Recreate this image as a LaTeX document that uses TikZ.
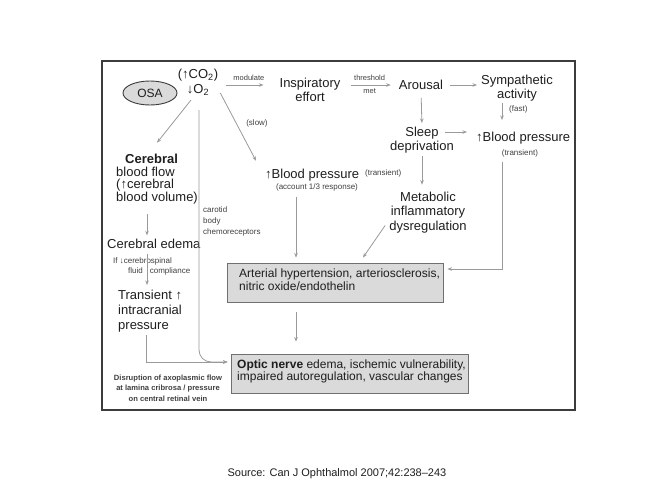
\documentclass[tikz,border=0pt]{standalone}
\usepackage{fontspec}
\setmainfont{Liberation Sans}
\usetikzlibrary{arrows.meta,shapes.geometric}
\definecolor{txtc}{HTML}{1E1E1E}
\definecolor{arrc}{HTML}{9A9A9A}
\definecolor{boxf}{HTML}{DADADA}
\definecolor{boxd}{HTML}{707070}
\definecolor{framec}{HTML}{3C3C3C}
\tikzset{
  txt/.style={font=\fontsize{13}{13.5}\selectfont, text=txtc, inner sep=0pt, align=center},
  sm/.style={font=\fontsize{8}{10}\selectfont, text=txtc!85, inner sep=0pt},
  bx/.style={draw=boxd, fill=boxf, line width=0.9pt, inner sep=0pt},
  bxtxt/.style={font=\fontsize{12}{12.5}\selectfont, text=txtc, inner sep=0pt, align=left},
  ar/.style={draw=arrc, line width=0.8pt, -{Stealth[length=4.5pt,width=3.5pt]}},
  ln/.style={draw=arrc, line width=0.8pt}
}
\begin{document}
\begin{tikzpicture}[x=1pt,y=-1pt]
\useasboundingbox (0,0) rectangle (649,488);
\fill[white] (0,0) rectangle (649,488);
\draw[framec, line width=1.8pt] (102,61) rectangle (575,410);

% nodes
\node[draw=framec, fill=boxf, line width=0.9pt, ellipse, minimum width=54pt, minimum height=24pt, inner sep=0pt, font=\fontsize{12}{12}\selectfont, text=txtc] (osa) at (150,93) {OSA};
\node[txt, font=\fontsize{13}{15}\selectfont] (gas) at (198,82.5) {(↑CO\textsubscript{2})\\↓O\textsubscript{2}};
\node[txt] (insp) at (310,90) {Inspiratory\\effort};
\node[txt] (arousal) at (421,85) {Arousal};
\node[txt] (symp) at (517,88) {Sympathetic\\activity};
\node[txt] (sleep) at (422,140) {Sleep\\deprivation};
\node[txt, anchor=west] (bpR) at (476,138) {↑Blood pressure};
\node[sm] (bpRt) at (520,153) {(transient)};
\node[sm, anchor=west] (fast) at (509,109) {(fast)};
\node[txt, font=\fontsize{13}{14.5}\selectfont] (metab) at (428,212.5) {Metabolic\\inflammatory\\dysregulation};
\node[txt, anchor=west] (bpM) at (265,175) {↑Blood pressure};
\node[sm, anchor=west] (bpMt) at (365,173) {(transient)};
\node[sm] (bpMa) at (317,187) {(account 1/3 response)};
\node[sm] (slow) at (257,123) {(slow)};
\node[txt, align=left, font=\fontsize{13}{12.7}\selectfont, anchor=west] (cereb) at (116,179)
  {\hspace*{9pt}\textbf{Cerebral}\\blood flow\\(↑cerebral\\blood volume)};
\node[txt, anchor=west] (edema) at (107,244) {Cerebral edema};
\node[sm, align=left, anchor=west] (csf) at (113,266) {If ↓cerebrospinal\\\hspace*{15pt}fluid\hspace{7pt}compliance};
\node[txt, align=left, font=\fontsize{13}{15}\selectfont, anchor=west] (trans) at (118,311) {Transient ↑\\intracranial\\pressure};
\node[sm, font=\fontsize{8}{11}\selectfont, align=left, anchor=west] (carot) at (203,221) {carotid\\body\\chemoreceptors};
\node[sm, font=\bfseries\fontsize{7.6}{10.5}\selectfont, align=center] (disr) at (168,388)
  {Disruption of axoplasmic flow\\at lamina cribrosa / pressure\\on central retinal vein};

\node[bx, minimum width=216pt, minimum height=39pt] (art) at (335,282.5) {};
\node[bxtxt, anchor=west] (arttxt) at (239,279.5) {Arterial hypertension, arteriosclerosis,\\nitric oxide/endothelin};
\node[bx, minimum width=237pt, minimum height=39pt] (opt) at (349.5,373.5) {};
\node[bxtxt, anchor=west] (opttxt) at (237,371.5) {\textbf{Optic nerve} edema, ischemic vulnerability,\\impaired autoregulation, vascular changes};

\node[font=\fontsize{11}{11}\selectfont, text=txtc, inner sep=0pt] (src) at (337,474) {Source: Can J Ophthalmol 2007;42:238–243};

% connectors
\draw[ar, shorten <=8pt, shorten >=16pt] (gas.east |- arousal) -- (insp.west |- arousal)
  node[sm, midway, above=4pt, font=\fontsize{7.5}{8}\selectfont] (modl) {modulate};
\draw[ar, shorten <=10pt, shorten >=8pt] (insp.east |- arousal) -- (arousal.west)
  node[sm, midway, above=4pt, font=\fontsize{7.5}{8}\selectfont] (thr) {threshold}
  node[sm, midway, below=3.5pt, font=\fontsize{7.5}{8}\selectfont] (met) {met};
\draw[ar, shorten <=7pt, shorten >=4pt] (arousal.east) -- (symp.west |- arousal);
\draw[ar] ([xshift=-15pt,yshift=-2pt]symp.south) -- ++(0,17);
\draw[ar, shorten <=8pt, shorten >=4pt] (arousal.south) -- (sleep.north);
\draw[ar] ([xshift=23pt,yshift=-5pt]sleep.north) -- ++(22,0);
\draw[ar] ([xshift=-18pt,yshift=-5pt]bpRt.south) |- ([xshift=4pt,yshift=13.5pt]art.east);
\draw[ar, shorten <=3pt, shorten >=7pt] (sleep.south) -- (sleep.south |- metab.north);
\draw[ar] ([xshift=-4pt,yshift=-13pt]metab.west) -- ([xshift=28pt,yshift=5pt]art.north);
\draw[ar] ([xshift=-7pt,yshift=-4pt]gas.south) -- ([xshift=0pt,yshift=11pt]cereb.north);
\draw[ar] ([xshift=2pt,yshift=3pt]gas.south east) -- ([xshift=-9pt,yshift=8pt]bpM.north west);
\draw[ar, rounded corners=12pt] ([xshift=1pt,yshift=-14pt]gas.south) |- ([xshift=-3pt,yshift=11.5pt]opt.west);
\draw[ar] ([xshift=28pt,yshift=-3pt]trans.south west) |- ([xshift=-3pt,yshift=11.5pt]opt.west);
\draw[ar, shorten >=5pt] ([xshift=-21pt,yshift=-6pt]bpMa.south) -- ([xshift=-39pt]art.north);
\draw[ar, shorten >=12pt] ([xshift=-39pt,yshift=-10pt]art.south) -- ([xshift=-53.5pt]opt.north);
\draw[ar] ([xshift=31pt,yshift=-10pt]cereb.south west) -- ++(0,21);
\draw[ar] ([xshift=40pt,yshift=-5pt]edema.south west) -- ++(0,31);
\end{tikzpicture}
\end{document}
